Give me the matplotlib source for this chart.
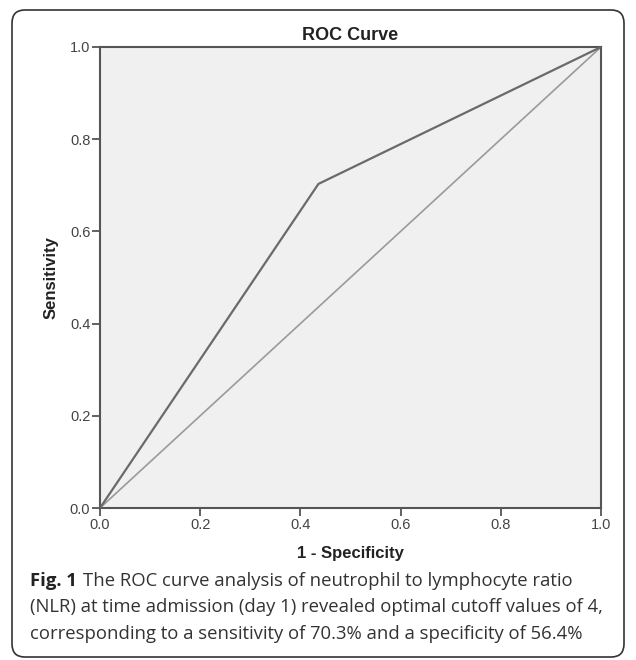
import matplotlib
matplotlib.use("Agg")
import matplotlib.pyplot as plt
from matplotlib.patches import FancyBboxPatch

# Data
fpr = [0.0, 0.436, 1.0]
tpr = [0.0, 0.703, 1.0]
ref_x = [0.0, 1.0]
ref_y = [0.0, 1.0]
ticks = [0.0, 0.2, 0.4, 0.6, 0.8, 1.0]
tick_labels = ["0.0", "0.2", "0.4", "0.6", "0.8", "1.0"]

fig = plt.figure(figsize=(6.36, 6.6), dpi=100)
fig.patch.set_facecolor("white")

# rounded frame
frame = FancyBboxPatch((12/636, 1 - 657/660), (624-12)/636, (657-10)/660,
                       boxstyle="round,pad=0,rounding_size=0.02",
                       transform=fig.transFigure, facecolor="none",
                       edgecolor="#333333", linewidth=1.2)
fig.patches.append(frame)

ax = fig.add_axes([100/636, 1 - 508/660, (601-100)/636, (508-47)/660])
ax.set_facecolor("#f0f0f0")
ax.plot(ref_x, ref_y, color="#9a9a9a", linewidth=1.2, zorder=2)
ax.plot(fpr, tpr, color="#6a6a6a", linewidth=1.6, zorder=3)
ax.set_xlim(0, 1)
ax.set_ylim(0, 1)
ax.set_xticks(ticks)
ax.set_xticklabels(tick_labels)
ax.set_yticks(ticks)
ax.set_yticklabels(tick_labels)
for s in ax.spines.values():
    s.set_color("#555555")
    s.set_linewidth(1.5)
ax.tick_params(axis="both", direction="out", length=6, width=1.3, color="#555555",
               labelsize=10.5, labelcolor="#444444", pad=1)
for lab in ax.get_xticklabels() + ax.get_yticklabels():
    lab.set_family("Liberation Sans")

ax.set_title("ROC Curve", fontsize=13, fontweight="bold", fontfamily="Liberation Sans",
             color="#222222", pad=5)
ax.set_xlabel("1 - Specificity", fontsize=12, fontweight="bold", fontfamily="Liberation Sans",
              color="#222222", labelpad=10)
ax.set_ylabel("Sensitivity", fontsize=12, fontweight="bold", fontfamily="Liberation Sans",
              color="#222222", labelpad=8)

# caption
fs = 13.3
x0 = 30/636
fig.text(x0, 1 - 581/660, "Fig. 1", fontsize=fs, fontweight="bold", fontfamily="Open Sans",
         color="#222222", va="center")
fig.text(x0 + 53/636, 1 - 581/660, "The ROC curve analysis of neutrophil to lymphocyte ratio",
         fontsize=fs, fontfamily="Open Sans", color="#333333", va="center")
fig.text(x0, 1 - 607/660, "(NLR) at time admission (day 1) revealed optimal cutoff values of 4,",
         fontsize=fs, fontfamily="Open Sans", color="#333333", va="center")
fig.text(x0, 1 - 634/660, "corresponding to a sensitivity of 70.3% and a specificity of 56.4%",
         fontsize=fs, fontfamily="Open Sans", color="#333333", va="center")

fig.savefig("out.png", dpi=100)
